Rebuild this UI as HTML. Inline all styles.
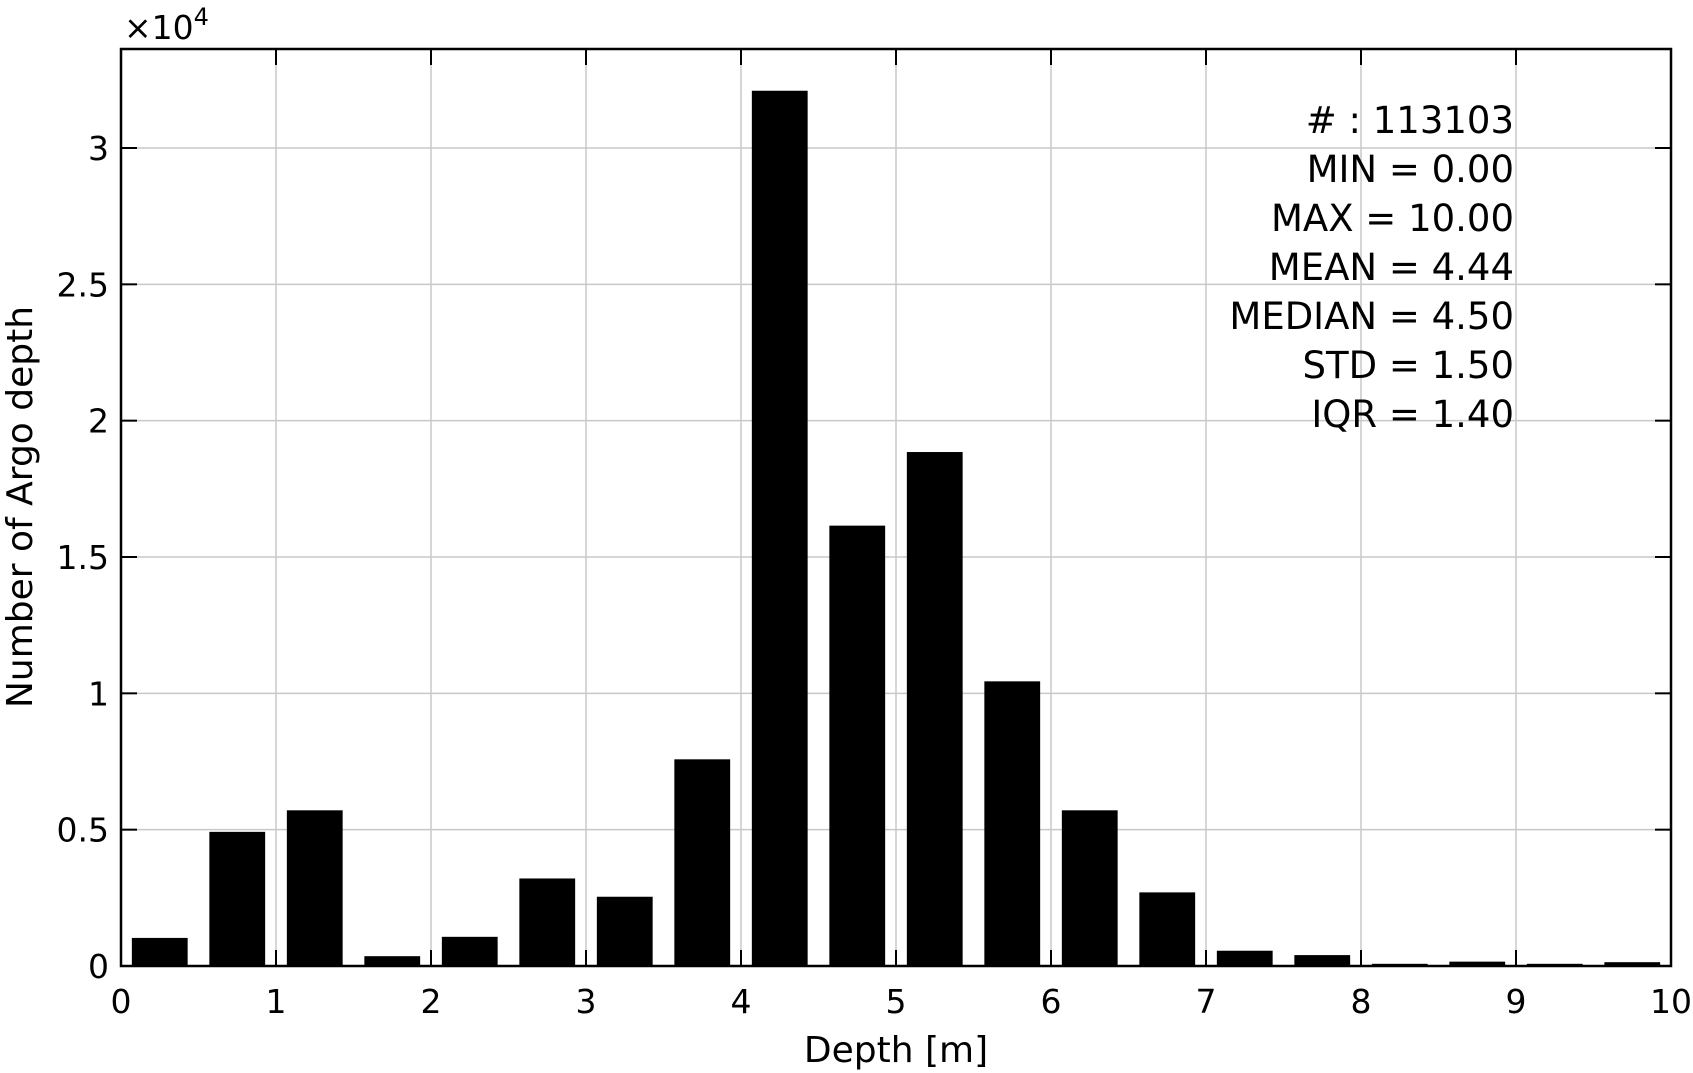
<!DOCTYPE html>
<html><head><meta charset="utf-8"><style>
body{margin:0;background:#fff}
svg{display:block;font-family:"DejaVu Sans","Liberation Sans",sans-serif}
</style></head><body>
<svg id="chart" width="1693" height="1073" viewBox="0 0 1693 1073"></svg>
<script>
const binCenters=[0.25,0.75,1.25,1.75,2.25,2.75,3.25,3.75,4.25,4.75,5.25,5.75,6.25,6.75,7.25,7.75,8.25,8.75,9.25,9.75];
const counts=[1030,4920,5710,360,1070,3210,2540,7580,32100,16150,18850,10440,5710,2700,560,400,80,160,80,140];
const xTicks=[0,1,2,3,4,5,6,7,8,9,10];
const yTicks=[0,0.5,1,1.5,2,2.5,3];
const yTickLabels=["0","0.5","1","1.5","2","2.5","3"];
const statLines=["# : 113103","MIN = 0.00","MAX =  10.00","MEAN = 4.44","MEDIAN = 4.50","STD = 1.50","IQR = 1.40"];
const L=121,R=1671,T=49,B=966,barW=0.36;
const X=v=>L+(v-0)/10*(R-L);
const Y=v=>B-v/30000*(B-148);
const svg=document.getElementById('chart');
const NS='http://www.w3.org/2000/svg';
function mk(t,a,p){const e=document.createElementNS(NS,t);for(const k in a)e.setAttribute(k,a[k]);(p||svg).appendChild(e);return e;}
// grid
xTicks.forEach(t=>{if(t>0&&t<10){const g=mk('line',{x1:X(t),x2:X(t),y1:T,y2:B,stroke:'#c8c8c8','stroke-width':1.5});
}});
yTicks.forEach(t=>{if(t>0){const g=mk('line',{x1:L,x2:R,y1:Y(t*1e4),y2:Y(t*1e4),stroke:'#c8c8c8','stroke-width':1.5});
}});
// bars
binCenters.forEach((c,i)=>{const y=Y(counts[i]);const r=mk('rect',{x:X(c-barW/2),y:y,width:X(c+barW/2)-X(c-barW/2),height:B-y,fill:'#000'});
});
// ticks and labels
xTicks.forEach(t=>{mk('line',{x1:X(t),x2:X(t),y1:B,y2:B-16,stroke:'#000','stroke-width':2});mk('line',{x1:X(t),x2:X(t),y1:T,y2:T+16,stroke:'#000','stroke-width':2});
const tx=mk('text',{x:X(t),y:B+47,'font-size':33,'text-anchor':'middle'});tx.textContent=t;
});
yTicks.forEach((t,i)=>{mk('line',{x1:L,x2:L+16,y1:Y(t*1e4),y2:Y(t*1e4),stroke:'#000','stroke-width':2});mk('line',{x1:R,x2:R-16,y1:Y(t*1e4),y2:Y(t*1e4),stroke:'#000','stroke-width':2});
const tx=mk('text',{x:L-12,y:Y(t*1e4)+12,'font-size':33,'text-anchor':'end'});tx.textContent=yTickLabels[i];
});
const fr=mk('rect',{x:L,y:T,width:R-L,height:B-T,fill:'none',stroke:'#000','stroke-width':2.5});

// multiplier
const m=mk('text',{x:124,y:39,'font-size':33});m.innerHTML='×10<tspan font-size="24" dy="-14">4</tspan>';

// stats
statLines.forEach((s,i)=>{const tx=mk('text',{x:1514,y:133+i*49,'font-size':37,'text-anchor':'end','xml:space':'preserve'});tx.textContent=s;
});
const xl=mk('text',{x:(L+R)/2,y:1062,'font-size':36,'text-anchor':'middle'});xl.textContent='Depth [m]';

const yl=mk('text',{x:0,y:0,'font-size':36,'text-anchor':'middle',transform:'translate(32,507) rotate(-90)'});yl.textContent='Number of Argo depth';

</script>
</body></html>
